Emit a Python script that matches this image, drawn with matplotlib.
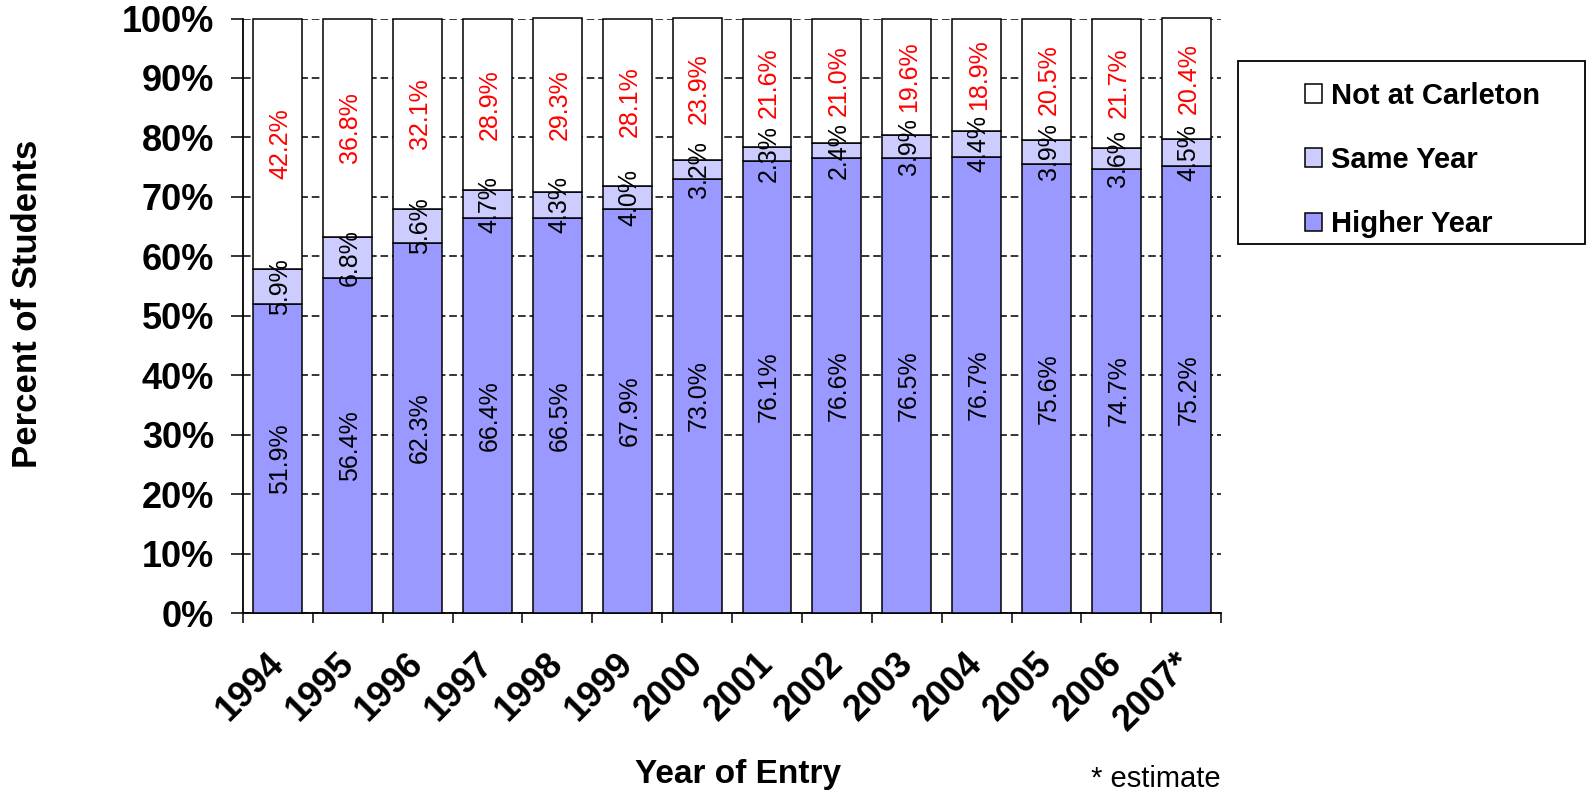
"""
Stacked bars of where students are, by year of entry
"""

import numpy as np
import matplotlib
matplotlib.use('Agg')
from matplotlib import pyplot as plt
from matplotlib.patches import Rectangle
from matplotlib.transforms import ScaledTranslation

years = ['1994', '1995', '1996', '1997', '1998', '1999', '2000',
         '2001', '2002', '2003', '2004', '2005', '2006', '2007*']
higher_year = [51.9, 56.4, 62.3, 66.4, 66.5, 67.9, 73.0,
               76.1, 76.6, 76.5, 76.7, 75.6, 74.7, 75.2]
same_year = [5.9, 6.8, 5.6, 4.7, 4.3, 4.0, 3.2,
             2.3, 2.4, 3.9, 4.4, 3.9, 3.6, 4.5]
not_at_carleton = [42.2, 36.8, 32.1, 28.9, 29.3, 28.1, 23.9,
                   21.6, 21.0, 19.6, 18.9, 20.5, 21.7, 20.4]
y_ticks = [0, 10, 20, 30, 40, 50, 60, 70, 80, 90, 100]


def main():
    plt.rcParams['font.family'] = ['Liberation Sans', 'DejaVu Sans']

    fig = plt.figure(figsize=(15.88, 7.92), dpi=100)
    ax = fig.add_axes([0.153, 0.226, 0.616, 0.7506])

    x = np.arange(len(years))
    higher = np.array(higher_year)
    same = np.array(same_year)
    other = np.array(not_at_carleton)

    style = dict(width=0.7, edgecolor='black', linewidth=1.1, clip_on=False, zorder=3)
    b1 = ax.bar(x, higher, color='#9999FF', label='Higher Year', **style)
    b2 = ax.bar(x, same, bottom=higher, color='#CCCCFF', label='Same Year', **style)
    b3 = ax.bar(x, other, bottom=higher + same, color='white', label='Not at Carleton', **style)

    # value labels, centred in each segment
    for i in range(len(years)):
        ax.text(x[i] + 0.03, higher[i] / 2, '{:.1f}%'.format(higher[i]),
                rotation=90, ha='center', va='center', fontsize=18, zorder=5)
        ax.text(x[i] + 0.03, higher[i] + same[i] / 2, '{:.1f}%'.format(same[i]),
                rotation=90, ha='center', va='center', fontsize=18, zorder=5)
        ax.text(x[i] + 0.03, higher[i] + same[i] + other[i] / 2, '{:.1f}%'.format(other[i]),
                rotation=90, ha='center', va='center', fontsize=18, color='red', zorder=5)

    ax.set_xlim(-0.5, len(years) - 0.5)
    ax.set_ylim(0, 100)
    ax.set_yticks(y_ticks)
    ax.set_yticklabels(['{}%'.format(t) for t in y_ticks], fontsize=26, fontweight='bold')
    ax.tick_params(axis='y', direction='out', length=8.6, width=1.1, pad=12)
    ax.yaxis.grid(True, linestyle=(0, (5, 2.5)), color='black', linewidth=1.1)
    ax.set_axisbelow(True)

    ax.set_xticks(x)
    ax.set_xticklabels(years, fontsize=26, fontweight='bold', rotation=45,
                       ha='right', rotation_mode='default')
    ax.tick_params(axis='x', which='major', length=0, pad=24)
    shift = ScaledTranslation(13 / 100, 0, fig.dpi_scale_trans)
    for lab in ax.get_xticklabels():
        lab.set_transform(lab.get_transform() + shift)
    ax.set_xticks(np.arange(len(years) + 1) - 0.5, minor=True)
    ax.tick_params(axis='x', which='minor', direction='out', length=7.5, width=1.1)

    for side in ['top', 'right']:
        ax.spines[side].set_visible(False)
    for side in ['left', 'bottom']:
        ax.spines[side].set_linewidth(1.3)

    fig.text(28 / 1588, 1 - 304 / 792, 'Percent of Students', rotation=90,
             ha='center', va='center', fontsize=25, fontweight='bold')
    fig.text(738 / 1588, 1 - 775 / 792, 'Year of Entry',
             ha='center', va='center', fontsize=24, fontweight='bold')
    fig.text(1156 / 1588, 1 - 779 / 792, '* estimate',
             ha='center', va='center', fontsize=21)

    # legend frame drawn by hand, entries placed inside it
    fig.patches.append(Rectangle((1238 / 1588, 1 - 244 / 792), 347 / 1588, 183 / 792,
                                 transform=fig.transFigure, facecolor='white',
                                 edgecolor='black', linewidth=1.3))
    fig.legend(handles=[b3, b2, b1], loc='upper left',
               bbox_to_anchor=(1290 / 1588, 1 - 67 / 792),
               frameon=False, prop=dict(size=21, weight='bold'),
               handlelength=0.6, handleheight=0.6, handletextpad=0.3,
               labelspacing=1.25, borderpad=0)

    plt.savefig('out.png', dpi=100)
    plt.close('all')


if __name__ == "__main__":
    main()
